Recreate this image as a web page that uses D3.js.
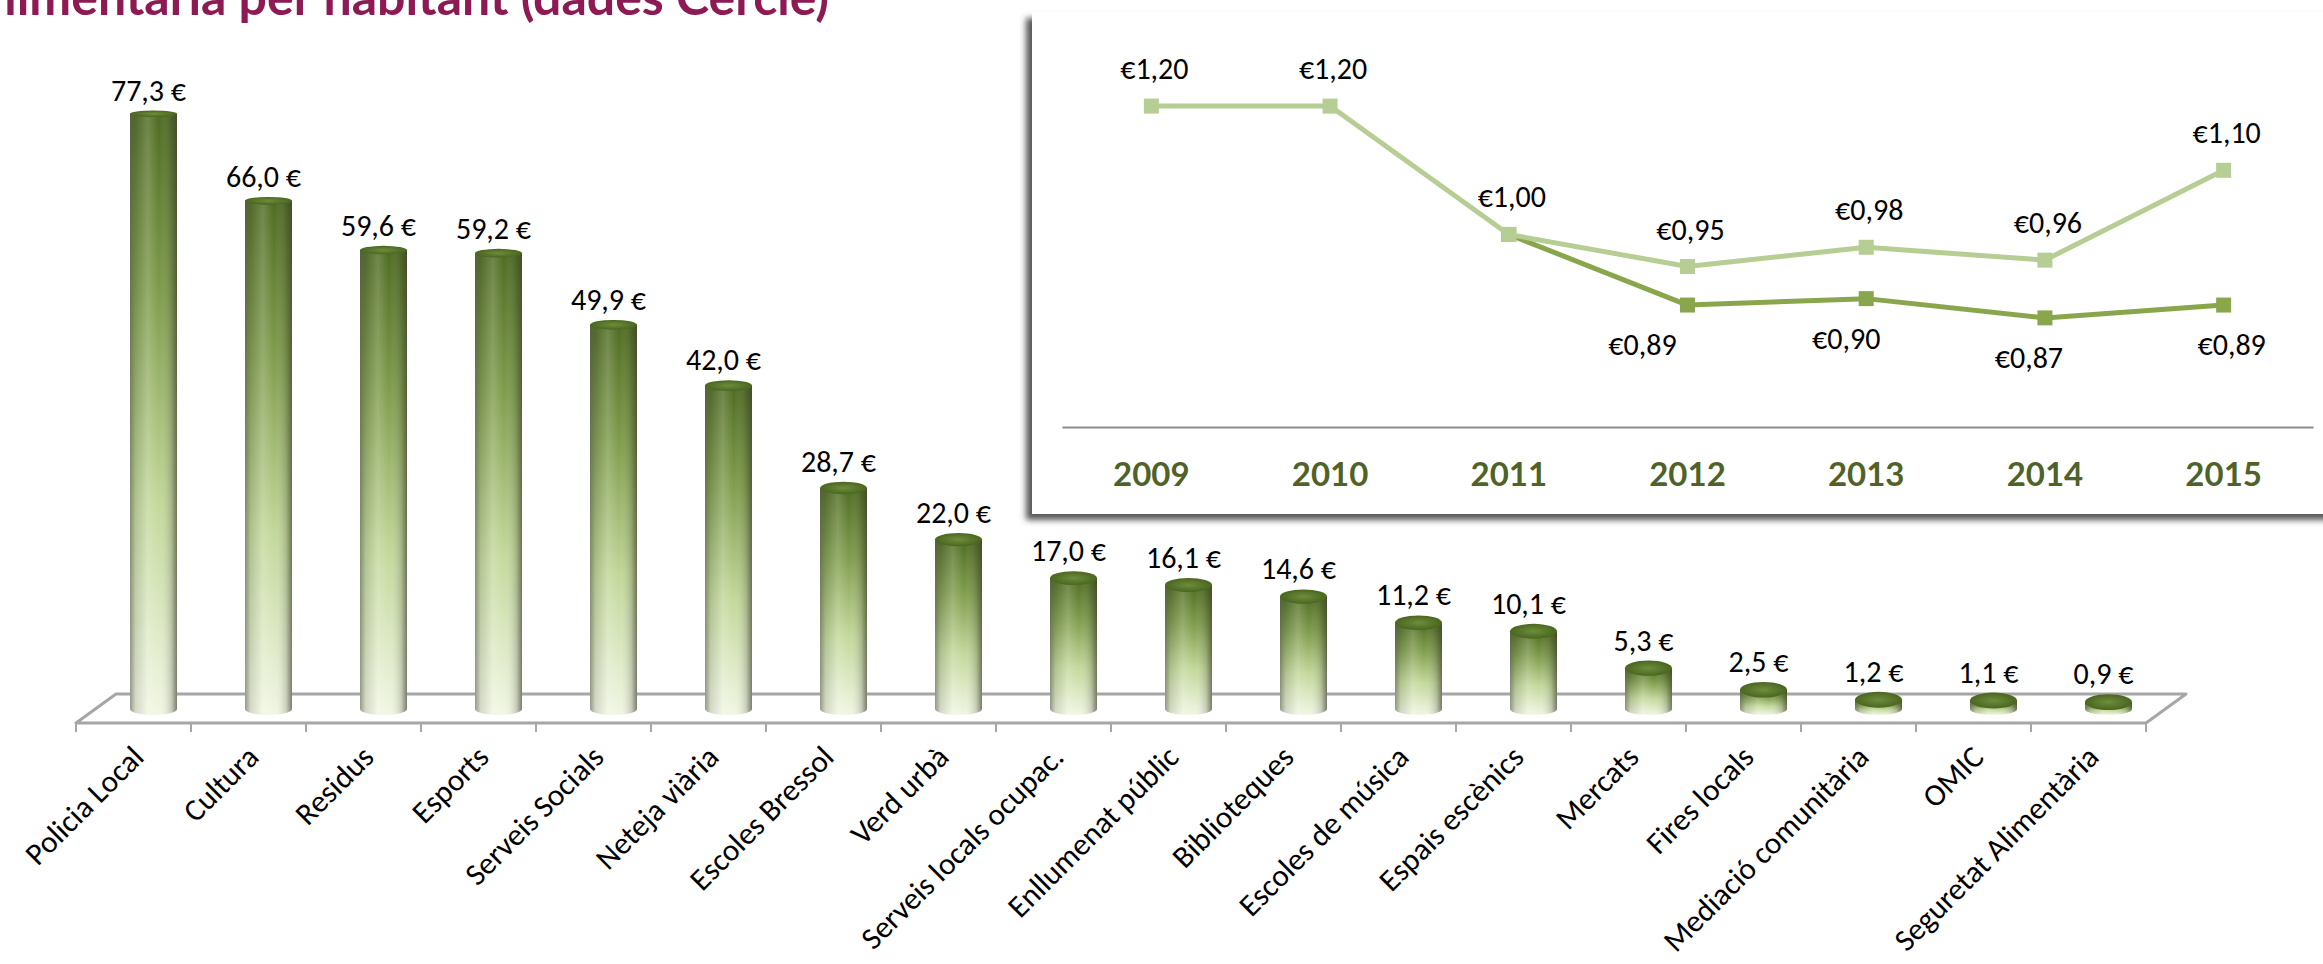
<!DOCTYPE html>
<html>
<head>
<meta charset="utf-8">
<title>Despesa per habitant</title>
<script src="https://cdn.jsdelivr.net/npm/d3@7"></script>
<style>
  body { margin: 0; background: #fff; }
  svg { display: block; font-family: Carlito, Calibri, Lato, sans-serif; }
</style>
</head>
<body>
<div id="chart"></div>
<script>
// ---- bar chart data (euros per inhabitant) ----
var categories = ["Policia Local", "Cultura", "Residus", "Esports", "Serveis Socials",
  "Neteja viària", "Escoles Bressol", "Verd urbà", "Serveis locals ocupac.",
  "Enllumenat públic", "Biblioteques", "Escoles de música", "Espais escènics",
  "Mercats", "Fires locals", "Mediació comunitària", "OMIC", "Seguretat Alimentària"];
var values = [77.3, 66.0, 59.6, 59.2, 49.9, 42.0, 28.7, 22.0, 17.0, 16.1, 14.6,
  11.2, 10.1, 5.3, 2.5, 1.2, 1.1, 0.9];

// ---- inset line chart data ----
var years = ["2009", "2010", "2011", "2012", "2013", "2014", "2015"];
var lightSeries = [1.20, 1.20, 1.00, 0.95, 0.98, 0.96, 1.10];
var darkSeries = [null, null, 1.00, 0.89, 0.90, 0.87, 0.89];

var titleText = "limentària per habitant (dades Cercle)";

var W = 2323, H = 964;
var svg = d3.select("#chart").append("svg")
    .attr("width", W)
    .attr("height", H);
var defs = svg.append("defs");

// gradients for the cylinders
var body = defs.append("linearGradient").attr("id", "barBody")
    .attr("x1", 0).attr("y1", 0).attr("x2", 0).attr("y2", 1);
[[0, "#4f6b22"], [0.3, "#7f9c4c"], [0.65, "#c3d89b"], [1, "#f1f6e4"]].forEach(function(s) {
    body.append("stop").attr("offset", s[0]).attr("stop-color", s[1]);
});
var shade = defs.append("linearGradient").attr("id", "barShade")
    .attr("x1", 0).attr("y1", 0).attr("x2", 1).attr("y2", 0);
[[0, "rgba(90,92,80,0.6)"], [0.12, "rgba(90,92,80,0.18)"], [0.38, "rgba(255,255,255,0.18)"],
 [0.62, "rgba(255,255,255,0)"], [0.88, "rgba(60,62,50,0.22)"], [1, "rgba(60,62,50,0.65)"]].forEach(function(s) {
    shade.append("stop").attr("offset", s[0]).attr("stop-color", s[1]);
});
var topGrad = defs.append("radialGradient").attr("id", "barTop");
topGrad.append("stop").attr("offset", 0).attr("stop-color", "#6e8d3c");
topGrad.append("stop").attr("offset", 1).attr("stop-color", "#4a6620");

var shadow = defs.append("filter").attr("id", "boxShadow")
    .attr("x", "-5%").attr("y", "-5%").attr("width", "110%").attr("height", "115%");
shadow.append("feDropShadow")
    .attr("dx", -6).attr("dy", 6).attr("stdDeviation", 3)
    .attr("flood-color", "#3a3a3a").attr("flood-opacity", 0.85);

// title (cut at the top edge, as in the source slide)
svg.append("text")
    .attr("x", 829).attr("y", 15)
    .attr("text-anchor", "end")
    .style("font-family", "Lato, sans-serif")
    .style("font-weight", "bold")
    .style("font-size", "50px")
    .style("fill", "#8e1a54")
    .text(titleText);

// ---- 3D-ish cylinder bar chart ----
var frontY = 723, depth = {dx: 40, dy: -29};
var x = d3.scaleBand().domain(categories).range([76, 2146]).padding(0);
var y = d3.scaleLinear().domain([0, 80]).range([709, 93]);
var rx = 23.5;

var floor = svg.append("g");
var x0 = x.range()[0], x1 = x.range()[1];
floor.append("path")
    .attr("d", "M" + x0 + "," + frontY + "L" + x1 + "," + frontY +
        "L" + (x1 + depth.dx) + "," + (frontY + depth.dy) +
        "L" + (x0 + depth.dx) + "," + (frontY + depth.dy) + "Z")
    .attr("fill", "#fff")
    .attr("stroke", "#a6a6a6")
    .attr("stroke-width", 3)
    .attr("stroke-linejoin", "round");
floor.selectAll("line.tick")
    .data(categories.map(function(c) { return x(c); }).concat([x1]))
    .enter().append("line")
    .attr("class", "tick")
    .attr("x1", function(d) { return d; }).attr("x2", function(d) { return d; })
    .attr("y1", frontY).attr("y2", frontY + 9)
    .attr("stroke", "#a6a6a6").attr("stroke-width", 2);

function barX(c) { return x(c) + x.bandwidth() / 2 + depth.dx / 2; }
function topRy(v) { return 3 + 5 * (1 - v / 80); }

var data = categories.map(function(c, i) { return {cat: c, val: values[i]}; });
var bars = svg.append("g").selectAll("g.bar").data(data).enter().append("g").attr("class", "bar");

function bodyPath(d) {
    var cx = barX(d.cat), yt = y(d.val), yb = y(0);
    return "M" + (cx - rx) + "," + yt + "L" + (cx - rx) + "," + yb +
        "A" + rx + ",6 0 0 0 " + (cx + rx) + "," + yb +
        "L" + (cx + rx) + "," + yt + "Z";
}
bars.append("path").attr("d", bodyPath).attr("fill", "url(#barBody)");
bars.append("path").attr("d", bodyPath).attr("fill", "url(#barShade)");
bars.append("ellipse")
    .attr("cx", function(d) { return barX(d.cat); })
    .attr("cy", function(d) { return y(d.val); })
    .attr("rx", rx)
    .attr("ry", function(d) { return topRy(d.val); })
    .attr("fill", "url(#barTop)");

// value labels
svg.append("g").selectAll("text").data(data).enter().append("text")
    .attr("x", function(d) { return barX(d.cat) - 5; })
    .attr("y", function(d) { return y(d.val) - topRy(d.val) - 10; })
    .attr("text-anchor", "middle")
    .style("font-size", "30px")
    .style("fill", "#000")
    .text(function(d) { return d.val.toFixed(1).replace(".", ",") + " €"; });

// category labels, rotated
svg.append("g").selectAll("text").data(categories).enter().append("text")
    .attr("transform", function(c) {
        return "translate(" + (x(c) + x.bandwidth() / 2 + 12) + "," + (frontY + 36) + ") rotate(-45)";
    })
    .attr("text-anchor", "end")
    .style("font-size", "31px")
    .style("fill", "#000")
    .text(function(c) { return c; });

// ---- inset line chart ----
var inset = svg.append("g");
inset.append("rect")
    .attr("x", 1032).attr("y", 12)
    .attr("width", 1320).attr("height", 502)
    .attr("fill", "#fff")
    .attr("filter", "url(#boxShadow)");

var xi = d3.scaleBand().domain(years).range([1062, 2313]).padding(0);
var yi = d3.scaleLinear().domain([0.7, 1.25]).range([427, 74]);
function px(yr) { return xi(yr) + xi.bandwidth() / 2; }

var xAxis = inset.append("g")
    .attr("transform", "translate(0," + yi(0.7) + ")")
    .call(d3.axisBottom(xi).tickSize(0).tickSizeOuter(0).tickPadding(36));
xAxis.select(".domain").attr("stroke", "#8c8c8c").attr("stroke-width", 2);
xAxis.selectAll("text")
    .style("font-family", "Lato, sans-serif")
    .style("font-weight", "bold")
    .style("font-size", "33px")
    .style("fill", "#4f6228");

var lightColor = "#b6cd93", darkColor = "#8aa64d";
var lineGen = d3.line()
    .defined(function(d) { return d.v != null; })
    .x(function(d) { return px(d.yr); })
    .y(function(d) { return yi(d.v); });

function seriesPoints(arr) {
    return years.map(function(yr, i) { return {yr: yr, v: arr[i]}; });
}

[[darkSeries, darkColor], [lightSeries, lightColor]].forEach(function(s) {
    var pts = seriesPoints(s[0]);
    inset.append("path")
        .datum(pts)
        .attr("d", lineGen)
        .attr("fill", "none")
        .attr("stroke", s[1])
        .attr("stroke-width", 5)
        .attr("stroke-linejoin", "round");
    inset.selectAll(null)
        .data(pts.filter(function(d) { return d.v != null; }))
        .enter().append("rect")
        .attr("x", function(d) { return px(d.yr) - 7.5; })
        .attr("y", function(d) { return yi(d.v) - 7.5; })
        .attr("width", 15).attr("height", 15)
        .attr("fill", s[1]);
});

function euro2(v) { return "€" + v.toFixed(2).replace(".", ","); }

// labels above the light series
inset.selectAll(null)
    .data(seriesPoints(lightSeries))
    .enter().append("text")
    .attr("x", function(d) { return px(d.yr) + 3; })
    .attr("y", function(d) { return yi(d.v) - 27; })
    .attr("text-anchor", "middle")
    .style("font-size", "30px")
    .text(function(d) { return euro2(d.v); });

// labels below the dark series (2011 shares the light label); small manual nudges as in the source
var darkShift = [0, 0, 0, -45, -20, -16, 8];
inset.selectAll(null)
    .data(seriesPoints(darkSeries).map(function(d, i) { d.shift = darkShift[i]; return d; })
        .filter(function(d, i) { return d.v != null && i > 2; }))
    .enter().append("text")
    .attr("x", function(d) { return px(d.yr) + d.shift; })
    .attr("y", function(d) { return yi(d.v) + 50; })
    .attr("text-anchor", "middle")
    .style("font-size", "30px")
    .text(function(d) { return euro2(d.v); });
</script>
</body>
</html>
